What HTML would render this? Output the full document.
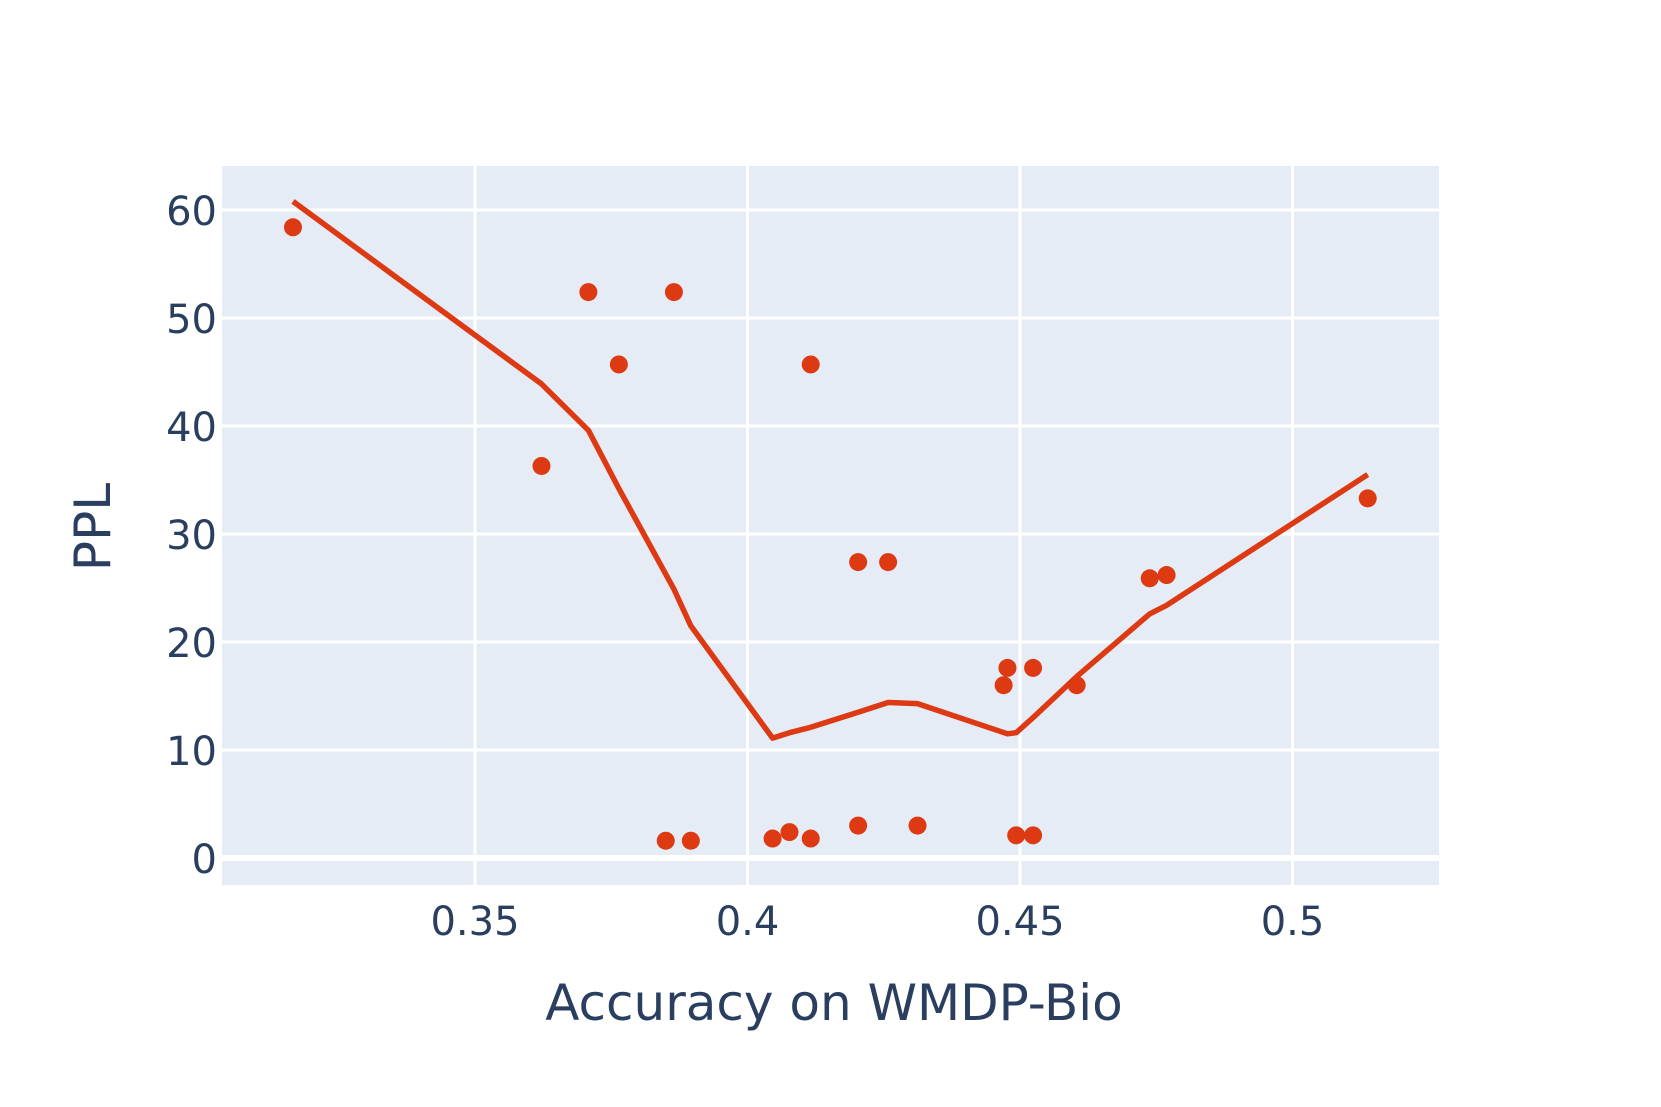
<!DOCTYPE html>
<html><head><meta charset="utf-8"><style>
html,body{margin:0;padding:0;background:#fff;}
svg{display:block;font-family:"DejaVu Sans","Liberation Sans",sans-serif;}
</style></head><body>
<svg id="chart" width="1661" height="1107" viewBox="0 0 1661 1107">
<rect x="0" y="0" width="1661" height="1107" fill="#fff"/>
<rect x="222" y="166" width="1217" height="719" fill="#e5ecf6"/>
<g id="grid"></g>
<g id="ticks"></g>
<g id="series"></g>
<text x="834" y="1020" text-anchor="middle" font-size="50" fill="#2a3f5f">Accuracy on WMDP-Bio</text>
<text x="0" y="0" transform="translate(110,527) rotate(-90)" text-anchor="middle" font-size="50" fill="#2a3f5f">PPL</text>
</svg>
<script>
const xTicks = [0.35, 0.4, 0.45, 0.5];
const xTickLabels = ["0.35", "0.4", "0.45", "0.5"];
const yTicks = [0, 10, 20, 30, 40, 50, 60];
const yTickLabels = ["0", "10", "20", "30", "40", "50", "60"];
const pointX = [0.3166,0.3622,0.3708,0.3764,0.3865,0.3850,0.3896,0.4046,0.4077,0.4116,0.4116,0.4203,0.4203,0.4258,0.4312,0.4470,0.4477,0.4493,0.4524,0.4524,0.4604,0.4738,0.4769,0.5138];
const pointY = [58.4,36.3,52.4,45.7,52.4,1.6,1.6,1.8,2.4,45.7,1.8,27.4,3.0,27.4,3.0,16.0,17.6,2.1,17.6,2.1,16.0,25.9,26.2,33.3];
const lineX = [0.3166,0.3622,0.3708,0.3764,0.3865,0.3896,0.4046,0.4077,0.4116,0.4203,0.4258,0.4312,0.4477,0.4493,0.4524,0.4604,0.4738,0.4769,0.5138];
const lineY = [60.8,43.9,39.6,34.2,24.9,21.5,11.1,11.6,12.1,13.5,14.4,14.3,11.5,11.6,13.0,16.8,22.6,23.4,35.5];

const NS = "http://www.w3.org/2000/svg";
const X0 = 222, X1 = 1439, Y0 = 166, Y1 = 885;
const xRef = 0.35, xRefPx = 475, pxPerUnitX = 272.5 / 0.05;
const yAt0 = 858, yPerUnit = 10.8;
function sx(v){ return xRefPx + (v - xRef) * pxPerUnitX; }
function sy(v){ return yAt0 - v * yPerUnit; }
function mk(tag, attrs, parent){ const e = document.createElementNS(NS, tag); for (const k in attrs) e.setAttribute(k, attrs[k]); parent.appendChild(e); return e; }

const grid = document.getElementById('grid');
const ticks = document.getElementById('ticks');
xTicks.forEach((t, i) => {
  const l = mk('line', {x1: sx(t), x2: sx(t), y1: Y0, y2: Y1, stroke: '#fff', 'stroke-width': 3}, grid);
  
  
  const tx = mk('text', {x: sx(t), y: 935, 'text-anchor': 'middle', 'font-size': 40, fill: '#2a3f5f'}, ticks);
  tx.textContent = xTickLabels[i];
  
  
});
yTicks.forEach((t, i) => {
  const l = mk('line', {x1: X0, x2: X1, y1: sy(t), y2: sy(t), stroke: '#fff', 'stroke-width': t === 0 ? 6 : 3}, grid);
  
  
  const tx = mk('text', {x: 217, y: sy(t) + 15, 'text-anchor': 'end', 'font-size': 40, fill: '#2a3f5f'}, ticks);
  tx.textContent = yTickLabels[i];
  
  
});

const series = document.getElementById('series');
const pts = lineX.map((v, i) => sx(v).toFixed(1) + ',' + sy(lineY[i]).toFixed(1)).join(' ');
const pl = mk('polyline', {points: pts, fill: 'none', stroke: '#dd3912', 'stroke-width': 5.5, 'stroke-linejoin': 'round'}, series);


pointX.forEach((v, i) => {
  const c = mk('circle', {cx: sx(v), cy: sy(pointY[i]), r: 9, fill: '#dd3912'}, series);
  
  
});
</script>
</body></html>
